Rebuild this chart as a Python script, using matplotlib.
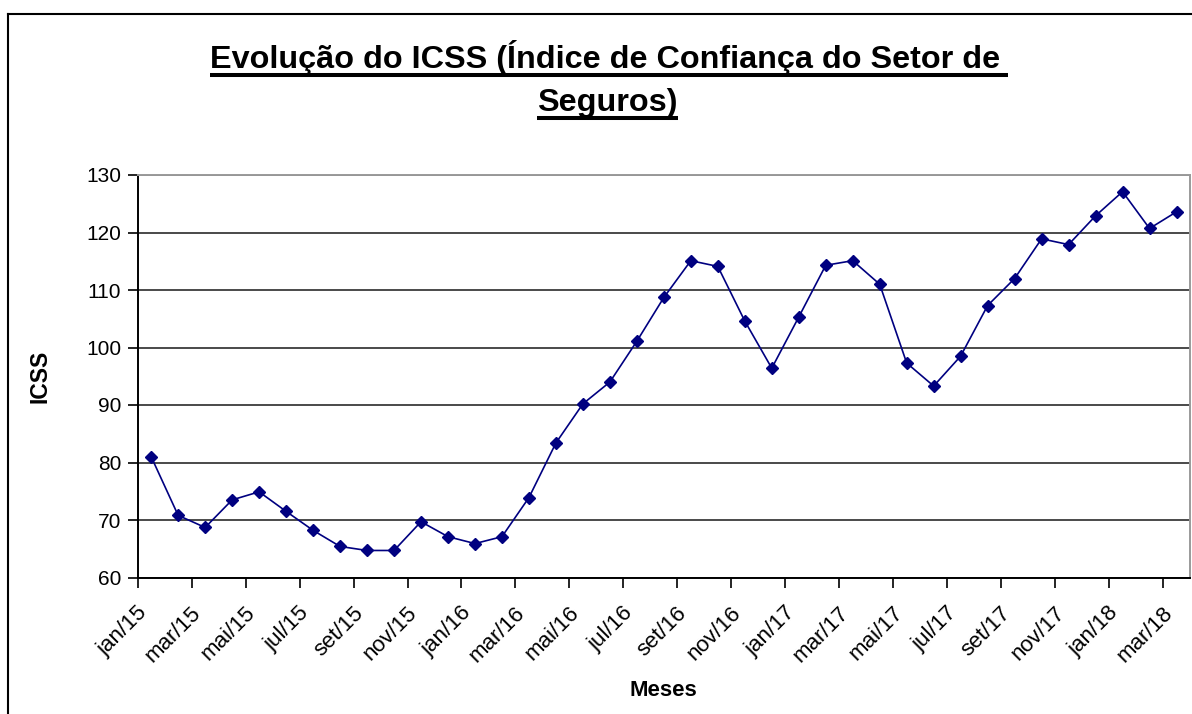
import matplotlib
matplotlib.use("Agg")
import matplotlib.pyplot as plt
from matplotlib.lines import Line2D
from matplotlib.transforms import ScaledTranslation, blended_transform_factory

# === Data ===
months = [
    "jan/15", "fev/15", "mar/15", "abr/15", "mai/15", "jun/15", "jul/15", "ago/15",
    "set/15", "out/15", "nov/15", "dez/15",
    "jan/16", "fev/16", "mar/16", "abr/16", "mai/16", "jun/16", "jul/16", "ago/16",
    "set/16", "out/16", "nov/16", "dez/16",
    "jan/17", "fev/17", "mar/17", "abr/17", "mai/17", "jun/17", "jul/17", "ago/17",
    "set/17", "out/17", "nov/17", "dez/17",
    "jan/18", "fev/18", "mar/18",
]
icss = [
    81.0, 70.8, 68.7, 73.5, 74.9, 71.5, 68.2, 65.4, 64.7, 64.7, 69.7, 67.1,
    65.9, 67.1, 73.9, 83.4, 90.2, 94.0, 101.1, 108.7, 115.1, 114.1, 104.6, 96.4,
    105.3, 114.3, 115.1, 111.0, 97.3, 93.3, 98.5, 107.3, 112.0, 118.9, 117.9, 122.9,
    127.1, 120.7, 123.6,
]
y_ticks = [60, 70, 80, 90, 100, 110, 120, 130]

title_line1 = "Evolução do ICSS (Índice de Confiança do Setor de"
title_line2 = "Seguros)"

FONT = ["Liberation Sans", "DejaVu Sans"]
plt.rcParams["font.family"] = FONT

W, H = 1192, 714
fig = plt.figure(figsize=(W / 100, H / 100), dpi=100)
fig.patch.set_facecolor("white")

# plot area in pixels -> figure fractions
left, right, top, bottom = 137.7, 1190, 175, 577.5
ax = fig.add_axes([left / W, 1 - bottom / H, (right - left) / W, (bottom - top) / H])

x = list(range(len(months)))
ax.plot(x, icss, color="#000080", lw=1.2, marker="D", markersize=6,
        markerfacecolor="#000080", markeredgecolor="#000080", zorder=3)

ax.set_xlim(-0.5, len(months) - 0.5)
ax.set_ylim(60, 130)
ax.set_yticks(y_ticks)
ax.tick_params(axis="y", labelsize=15, length=7, width=1.2, pad=5, direction="out")

# tick marks on category boundaries, labels on every other month
ax.set_xticks([i - 0.5 for i in range(0, len(months), 2)])
ax.set_xticklabels([])
ax.tick_params(axis="x", which="major", length=7, width=1.2, direction="out")

# rotated month labels, anchored a bit left of / below each category centre
lbl_tr = blended_transform_factory(ax.transData, ax.transAxes) + \
    ScaledTranslation(-7 / 100, -32.5 / 100, fig.dpi_scale_trans)
for i in x[::2]:
    ax.text(i, 0, months[i], transform=lbl_tr, rotation=45, ha="right", va="center",
            rotation_mode="anchor", fontsize=16, clip_on=False)

ax.grid(axis="y", color="#3c3c3c", lw=1.3)
ax.set_axisbelow(True)
for s in ["left", "bottom"]:
    ax.spines[s].set_color("black")
    ax.spines[s].set_linewidth(1.4)
for s in ["top", "right"]:
    ax.spines[s].set_color("#9a9a9a")
    ax.spines[s].set_linewidth(1.4)

ax.set_ylabel("ICSS", fontsize=16.5, fontweight="bold")
ax.yaxis.set_label_coords((52 - left) / (right - left), 0.5)
ax.set_xlabel("Meses", fontsize=16, fontweight="bold")
ax.xaxis.set_label_coords(0.5, (bottom - 690) / (bottom - top))
ax.xaxis.label.set_va("center")

# === Title with underline ===
renderer = fig.canvas.get_renderer()
inv = fig.transFigure.inverted()


def underlined(text, xc, base, extra=0):
    t = fig.text(xc / W, 1 - base / H, text, ha="center", va="baseline",
                 fontsize=23.3, fontweight="bold")
    bb = t.get_window_extent(renderer)
    yl = H - (base + 7)
    p0 = inv.transform((bb.x0, yl))
    p1 = inv.transform((bb.x1 + extra, yl))
    fig.add_artist(Line2D([p0[0], p1[0]], [p0[1], p1[1]], color="black", lw=2.9,
                          solid_capstyle="butt"))


underlined(title_line1, 605.5, 68.3, extra=7)
underlined(title_line2, 607.5, 110.5)

# outer chart border (left and top edges)
p_tl = inv.transform((8, H - 14))
fig.add_artist(Line2D([p_tl[0], 1.0], [p_tl[1], p_tl[1]], color="black", lw=1.5))
fig.add_artist(Line2D([p_tl[0], p_tl[0]], [0.0, p_tl[1]], color="black", lw=1.5))

fig.savefig("out.png", dpi=100)
